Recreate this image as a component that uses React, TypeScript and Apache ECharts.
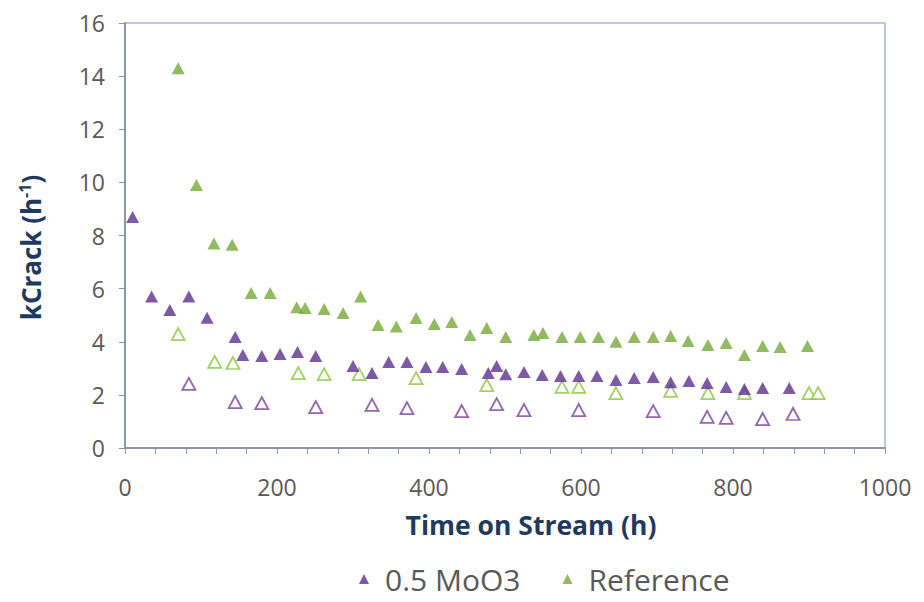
import React, { useEffect, useRef } from "react";
import * as echarts from "echarts";

const moo3X = [10, 35, 59, 84, 108, 145, 155, 180, 204, 227, 251, 300, 325, 347, 371, 396, 418, 443, 478, 489, 501, 525, 549, 573, 597, 621, 646, 670, 695, 718, 742, 766, 791, 815, 839, 874];
const moo3Y = [8.7, 5.7, 5.2, 5.7, 4.9, 4.18, 3.5, 3.46, 3.54, 3.61, 3.46, 3.09, 2.82, 3.24, 3.24, 3.05, 3.05, 2.97, 2.82, 3.09, 2.78, 2.86, 2.75, 2.71, 2.71, 2.71, 2.56, 2.64, 2.67, 2.48, 2.52, 2.45, 2.3, 2.22, 2.26, 2.26];

const refX = [70, 94, 117, 141, 166, 191, 226, 237, 262, 287, 310, 333, 357, 383, 407, 430, 454, 476, 501, 538, 550, 575, 599, 623, 646, 670, 695, 718, 741, 767, 791, 815, 839, 862, 898];
const refY = [14.3, 9.9, 7.7, 7.65, 5.84, 5.84, 5.3, 5.27, 5.23, 5.08, 5.7, 4.63, 4.57, 4.89, 4.67, 4.74, 4.25, 4.52, 4.18, 4.25, 4.33, 4.18, 4.18, 4.18, 4.0, 4.18, 4.18, 4.22, 4.03, 3.88, 3.95, 3.5, 3.84, 3.8, 3.84];

const refOpenX = [70, 118, 142, 228, 262, 308, 383, 476, 575, 597, 646, 718, 767, 815, 900, 912];
const refOpenY = [4.29, 3.24, 3.2, 2.82, 2.78, 2.78, 2.63, 2.37, 2.3, 2.3, 2.07, 2.15, 2.07, 2.07, 2.07, 2.07];

const moo3OpenX = [84, 145, 180, 251, 325, 371, 443, 489, 525, 597, 695, 766, 791, 839, 879];
const moo3OpenY = [2.41, 1.73, 1.69, 1.54, 1.62, 1.5, 1.39, 1.65, 1.43, 1.43, 1.39, 1.17, 1.13, 1.09, 1.28];

const legendNames = ["0.5 MoO3", "Reference"];
const xTitle = "Time on Stream (h)";

const PURPLE = "#5e2f8e";
const GREEN = "#74aa3a";
const PURPLE_OPEN = "#7b3f9e";
const GREEN_OPEN = "#8cc63f";
const FONT = "'Open Sans', sans-serif";

const zip = (xs: number[], ys: number[]) => xs.map((x, i) => [x, ys[i]]);

export default function App() {
  const ref = useRef<HTMLDivElement>(null);
  useEffect(() => {
    const chart = echarts.init(ref.current!, null, { renderer: "svg" });
    const sym = [13, 12];
    chart.setOption({
      animation: false,
      backgroundColor: "#ffffff",
      textStyle: { fontFamily: FONT },
      grid: {
        left: 125,
        top: 23,
        right: 39,
        bottom: 154,
        show: true,
        borderColor: "#aab5c7",
        borderWidth: 1.5,
      },
      legend: {
        data: legendNames,
        top: 559,
        left: 354,
        icon: "triangle",
        itemWidth: 10,
        itemHeight: 10,
        itemGap: 42,
        textStyle: { fontSize: 30, color: "#595959", fontFamily: FONT, padding: [0, 0, 0, 11] },
      },
      xAxis: {
        type: "value",
        min: 0,
        max: 1000,
        interval: 40,
        name: xTitle,
        nameLocation: "middle",
        nameGap: 63,
        nameTextStyle: {
          fontSize: 26.5,
          fontWeight: "bold",
          color: "#1f3a60",
          fontFamily: FONT,
          padding: [0, 0, 0, 52],
        },
        axisLine: { show: true, lineStyle: { color: "#8c96a8", width: 2 } },
        axisTick: { show: true, length: 6, lineStyle: { color: "#8c96a8", width: 1 } },
        splitLine: { show: false },
        axisLabel: {
          fontSize: 23,
          color: "#595959",
          margin: 27,
          fontFamily: FONT,
          formatter: (v: number) => (v % 200 === 0 ? String(v) : ""),
          showMinLabel: true,
          showMaxLabel: true,
        },
      },
      yAxis: {
        type: "value",
        min: 0,
        max: 16,
        interval: 2,
        name: "kCrack (h{sup|-1})",
        nameLocation: "middle",
        nameGap: 80,
        nameTextStyle: {
          fontSize: 26,
          fontWeight: "bold",
          color: "#1f3a60",
          fontFamily: FONT,
          padding: [0, 24, 0, 0],
          rich: {
            sup: { fontSize: 16, fontWeight: "bold", color: "#1f3a60", fontFamily: FONT, padding: [0, 0, 12, 0] },
          },
        },
        axisLine: { show: true, lineStyle: { color: "#8c96a8", width: 2 } },
        axisTick: { show: true, length: 6, lineStyle: { color: "#8c96a8", width: 1 } },
        splitLine: { show: false },
        axisLabel: { fontSize: 23, color: "#595959", margin: 20, fontFamily: FONT },
      },
      series: [
        {
          name: "Reference (open)",
          type: "scatter",
          symbol: "triangle",
          symbolSize: sym,
          data: zip(refOpenX, refOpenY),
          itemStyle: { color: "#ffffff", borderColor: GREEN_OPEN, borderWidth: 1.8 },
          emphasis: { disabled: true },
        },
        {
          name: "0.5 MoO3 (open)",
          type: "scatter",
          symbol: "triangle",
          symbolSize: sym,
          data: zip(moo3OpenX, moo3OpenY),
          itemStyle: { color: "#ffffff", borderColor: PURPLE_OPEN, borderWidth: 1.8 },
          emphasis: { disabled: true },
        },
        {
          name: "Reference",
          type: "scatter",
          symbol: "triangle",
          symbolSize: sym,
          data: zip(refX, refY),
          itemStyle: { color: GREEN },
          emphasis: { disabled: true },
        },
        {
          name: "0.5 MoO3",
          type: "scatter",
          symbol: "triangle",
          symbolSize: sym,
          data: zip(moo3X, moo3Y),
          itemStyle: { color: PURPLE },
          emphasis: { disabled: true },
        },
      ],
    });
    return () => chart.dispose();
  }, []);
  return (
    <div
      ref={ref}
      style={{ position: "absolute", left: 0, top: 0, width: 924, height: 602 }}
    />
  );
}
